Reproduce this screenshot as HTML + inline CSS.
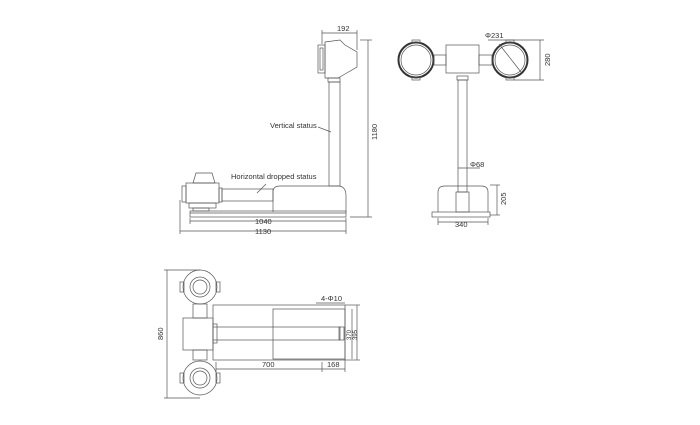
<!DOCTYPE html>
<html><head><meta charset="utf-8"><style>
html,body{margin:0;padding:0;background:#fff;}
svg{display:block;}
text{font-family:"Liberation Sans",sans-serif;font-size:7.5px;fill:#333;}
</style></head><body>
<svg width="700" height="425" viewBox="0 0 700 425" xmlns="http://www.w3.org/2000/svg">
<g fill="none" stroke="#555" stroke-width="0.7">
<!-- SIDE VIEW -->
<rect x="318" y="45" width="7" height="28"/>
<rect x="320" y="48" width="3" height="22"/>
<path d="M325 42 L340 40 L345 45 L357 52 L357 67 L345 74 L338 78 L325 78 Z"/>
<rect x="328" y="78" width="12" height="4"/>
<rect x="329" y="82" width="11" height="104"/>
<path d="M273 212 L273 192 Q273 186 280 186 L338 186 Q346 186 346 196 L346 212"/>
<rect x="190" y="211" width="156" height="6"/>
<line x1="190" y1="213" x2="346" y2="213"/>
<path d="M193 183 L196 173 L212 173 L215 183 Z"/>
<rect x="186" y="183" width="33" height="20"/>
<rect x="182" y="186" width="4" height="16"/>
<rect x="189" y="203" width="27" height="5"/>
<rect x="193" y="208" width="16" height="3"/>
<rect x="219" y="188" width="3" height="14"/>
<rect x="222" y="189" width="51" height="12"/>
<line x1="322" y1="33" x2="357" y2="33"/>
<line x1="322" y1="30" x2="322" y2="44"/><line x1="357" y1="30" x2="357" y2="50"/>
<line x1="360" y1="40" x2="372" y2="40"/><line x1="350" y1="217" x2="372" y2="217"/>
<line x1="368" y1="40" x2="368" y2="217"/>
<line x1="190" y1="218" x2="190" y2="224"/><line x1="346" y1="218" x2="346" y2="234"/>
<line x1="190" y1="221" x2="346" y2="221"/>
<line x1="180" y1="200" x2="180" y2="234"/>
<line x1="180" y1="231" x2="346" y2="231"/>
<line x1="318" y1="127" x2="331" y2="132"/>
<line x1="257" y1="193" x2="266" y2="184"/>

<!-- FRONT VIEW -->
<circle cx="416" cy="60" r="17.5" stroke="#333" stroke-width="2"/><circle cx="416" cy="60" r="15"/>
<circle cx="510" cy="60" r="17.5" stroke="#333" stroke-width="2"/><circle cx="510" cy="60" r="15"/>
<rect x="412" y="40" width="8" height="3"/><rect x="412" y="77" width="8" height="3"/>
<rect x="506" y="40" width="8" height="3"/><rect x="506" y="77" width="8" height="3"/>
<rect x="434" y="55" width="12" height="10"/><rect x="479" y="55" width="13" height="10"/>
<rect x="446" y="45" width="33" height="28"/>
<rect x="457" y="76" width="11" height="4"/>
<rect x="458" y="80" width="9" height="112"/>
<line x1="499" y1="44" x2="521" y2="72"/>
<line x1="488" y1="40" x2="544" y2="40"/><line x1="514" y1="80" x2="544" y2="80"/>
<line x1="540" y1="40" x2="540" y2="80"/>
<path d="M438 212 L438 192 Q438 186 445 186 L481 186 Q488 186 488 192 L488 212"/>
<rect x="456" y="192" width="13" height="20"/>
<rect x="432" y="212" width="58" height="5"/>
<line x1="490" y1="185" x2="500" y2="185"/><line x1="490" y1="215" x2="500" y2="215"/>
<line x1="497" y1="185" x2="497" y2="215"/>
<line x1="438" y1="218" x2="438" y2="225"/><line x1="488" y1="218" x2="488" y2="225"/>
<line x1="438" y1="222" x2="488" y2="222"/>
<line x1="458" y1="168" x2="480" y2="168"/>

<!-- TOP VIEW -->
<circle cx="200" cy="287" r="17"/><circle cx="200" cy="287" r="10"/><circle cx="200" cy="287" r="7"/>
<circle cx="200" cy="378" r="17"/><circle cx="200" cy="378" r="10"/><circle cx="200" cy="378" r="7"/>
<rect x="180" y="282" width="4" height="10"/><rect x="216" y="282" width="4" height="10"/>
<rect x="180" y="373" width="4" height="10"/><rect x="216" y="373" width="4" height="10"/>
<rect x="193" y="304" width="14" height="14"/><rect x="193" y="350" width="14" height="10"/>
<rect x="183" y="318" width="30" height="32"/>
<rect x="213" y="305" width="132" height="55"/>
<rect x="273" y="309" width="72" height="50"/>
<rect x="213" y="327" width="127" height="13"/>
<rect x="213" y="324" width="4" height="19"/>
<rect x="339" y="327" width="5" height="13"/>
<line x1="167" y1="270" x2="167" y2="398"/>
<line x1="164" y1="270" x2="200" y2="270"/><line x1="164" y1="398" x2="200" y2="398"/>
<line x1="216" y1="362" x2="216" y2="372"/><line x1="322" y1="362" x2="322" y2="372"/><line x1="345" y1="360" x2="345" y2="372"/>
<line x1="216" y1="369" x2="345" y2="369"/>
<line x1="352" y1="309" x2="352" y2="359"/><line x1="357" y1="305" x2="357" y2="360"/>
<line x1="345" y1="305" x2="360" y2="305"/><line x1="345" y1="360" x2="360" y2="360"/>
<line x1="316" y1="303" x2="345" y2="303"/>
</g>
<g>
<text x="337" y="31">192</text>
<text x="270" y="128">Vertical status</text>
<text x="231" y="179">Horizontal dropped status</text>
<text x="255" y="224">1040</text>
<text x="255" y="234">1130</text>
<text transform="translate(377,140) rotate(-90)">1180</text>
<text x="485" y="38">Φ231</text>
<text transform="translate(550,66) rotate(-90)">280</text>
<text x="470" y="167">Φ68</text>
<text transform="translate(506,205) rotate(-90)">205</text>
<text x="455" y="227">340</text>
<text transform="translate(163,340) rotate(-90)">860</text>
<text x="321" y="301">4-Φ10</text>
<text x="262" y="367">700</text>
<text x="327" y="367">168</text>
<text transform="translate(351,340) rotate(-90)" style="font-size:6px">370</text>
<text transform="translate(357,340) rotate(-90)" style="font-size:6px">395</text>
</g>
</svg>
</body></html>
